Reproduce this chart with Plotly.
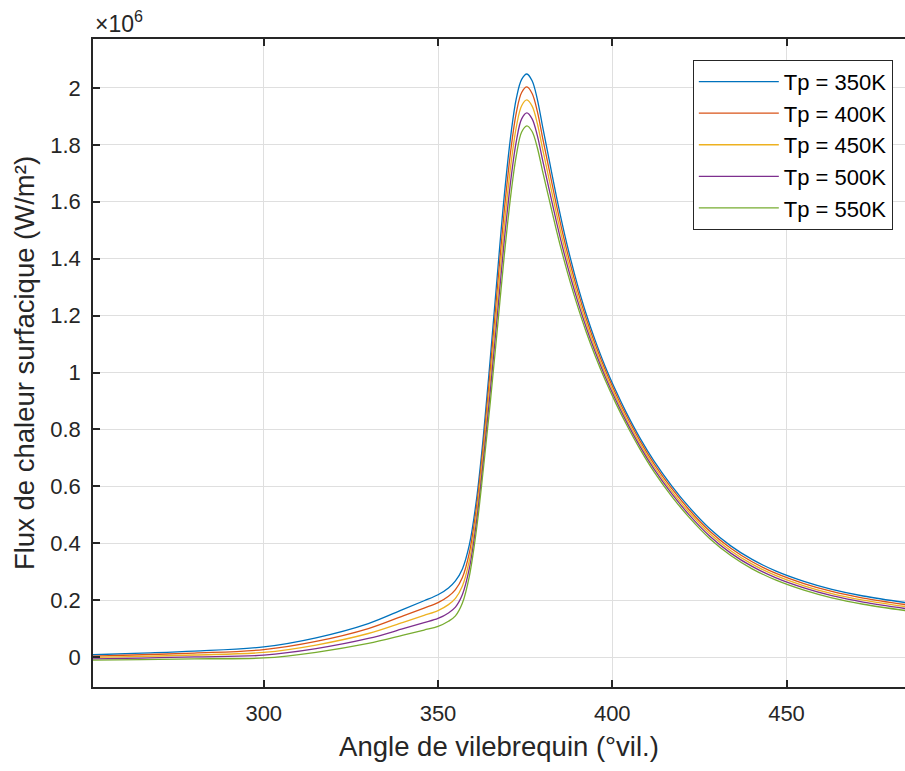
import numpy as np
import plotly.graph_objects as go

# Crank angle (°vil.)
angle = [250, 265, 280, 300, 315, 330, 340, 346, 350, 353, 355, 357, 359, 361, 363, 365, 367, 369, 371, 372.5,
         374, 375.5, 377, 378.5, 380, 382, 384, 386, 388, 390, 392.5, 395, 398, 401, 404, 408, 412, 417, 422,
         428, 434, 440, 447, 455, 463, 472, 485]

# Surface heat flux, in units of 1e6 W/m²
tp350 = [0.008, 0.014, 0.021, 0.036, 0.068, 0.118, 0.168, 0.198, 0.219, 0.243, 0.268, 0.31, 0.395, 0.55, 0.775, 1.05,
         1.34, 1.62, 1.845, 1.965, 2.03, 2.049, 2.025, 1.96, 1.865, 1.741, 1.617, 1.503, 1.401, 1.309, 1.2065, 1.1165,
         1.0205, 0.9365, 0.86, 0.7688, 0.6888, 0.6028, 0.5278, 0.451, 0.391, 0.3442, 0.3022, 0.2662, 0.2382, 0.2148, 0.1901]
tp400 = [0.0033, 0.0083, 0.0143, 0.0263, 0.0553, 0.1005, 0.1453, 0.1723, 0.1913, 0.2138, 0.2373, 0.28, 0.3675, 0.5238,
         0.7463, 1.0113, 1.2925, 1.5675, 1.7925, 1.915, 1.9838, 2.0035, 1.9805, 1.9175, 1.8258, 1.7065, 1.5875, 1.478,
         1.3795, 1.2905, 1.1908, 1.1028, 1.0085, 0.9255, 0.8498, 0.7591, 0.6793, 0.5936, 0.5188, 0.4423, 0.3825,
         0.336, 0.2942, 0.2585, 0.2307, 0.2076, 0.1831]
tp450 = [-0.0015, 0.0025, 0.0075, 0.0165, 0.0425, 0.083, 0.1225, 0.1465, 0.1635, 0.1845, 0.2065, 0.25, 0.34, 0.4975,
         0.7175, 0.9725, 1.245, 1.515, 1.74, 1.865, 1.9375, 1.958, 1.936, 1.875, 1.7865, 1.672, 1.558, 1.453,
         1.358, 1.272, 1.175, 1.089, 0.9965, 0.9145, 0.8395, 0.7493, 0.6698, 0.5843, 0.5098, 0.4335, 0.374,
         0.3277, 0.2862, 0.2507, 0.2232, 0.2003, 0.1761]
tp500 = [-0.0063, -0.0033, 0.0008, 0.0068, 0.0298, 0.0655, 0.0998, 0.1208, 0.1358, 0.1553, 0.1758, 0.22, 0.3125, 0.4713,
         0.6888, 0.9338, 1.1975, 1.4625, 1.6875, 1.815, 1.8913, 1.9125, 1.8915, 1.8325, 1.7473, 1.6375, 1.5285, 1.428,
         1.3365, 1.2535, 1.1593, 1.0753, 0.9845, 0.9035, 0.8293, 0.7396, 0.6603, 0.5751, 0.5008, 0.4248, 0.3655,
         0.3195, 0.2782, 0.243, 0.2157, 0.1931, 0.1691]
tp550 = [-0.011, -0.009, -0.006, -0.003, 0.017, 0.048, 0.077, 0.095, 0.108, 0.126, 0.145, 0.19, 0.285, 0.445, 0.66,
         0.895, 1.15, 1.41, 1.635, 1.765, 1.845, 1.867, 1.847, 1.79, 1.708, 1.603, 1.499, 1.403, 1.315, 1.235, 1.1435,
         1.0615, 0.9725, 0.8925, 0.819, 0.7298, 0.6508, 0.5658, 0.4918, 0.416, 0.357, 0.3112, 0.2702, 0.2352, 0.2082,
         0.1858, 0.1621]

series_names = ["Tp = 350K", "Tp = 400K", "Tp = 450K", "Tp = 500K", "Tp = 550K"]
series_vals = [tp350, tp400, tp450, tp500, tp550]
colors = ["#0072BD", "#D95319", "#EDB120", "#7E2F8E", "#77AC30"]

y_ticks = [0, 0.2, 0.4, 0.6, 0.8, 1, 1.2, 1.4, 1.6, 1.8, 2]
y_ticklabels = ["0", "0.2", "0.4", "0.6", "0.8", "1", "1.2", "1.4", "1.6", "1.8", "2"]
x_ticks = [300, 350, 400, 450]

FONT = "Liberation Sans, Arial, Helvetica, sans-serif"
INK = "#262626"

fig = go.Figure()
for name, vals, col in zip(series_names, series_vals, colors):
    fig.add_trace(go.Scatter(
        x=angle, y=np.array(vals) * 1e6, mode="lines", name=name,
        legendgroup=name,
        line=dict(color=col, width=1.3, shape="spline", smoothing=1.0),
    ))

fig.update_layout(
    width=905, height=771,
    margin=dict(l=93, r=0, t=39, b=84),
    paper_bgcolor="white", plot_bgcolor="white",
    font=dict(family=FONT, size=22, color=INK),
    showlegend=True,
    legend=dict(
        x=0.985, y=0.968, xanchor="right", yanchor="top",
        bgcolor="white", bordercolor=INK, borderwidth=1,
        font=dict(family=FONT, size=22, color="black"),
        tracegroupgap=0, itemwidth=80,
    ),
    xaxis=dict(
        range=[251, 484], tickvals=x_ticks, automargin=False,
        showgrid=True, gridcolor="#dfdfdf", gridwidth=1,
        zeroline=False, showline=True, linecolor=INK, linewidth=1.5,
        mirror="ticks", ticks="inside", ticklen=7, tickcolor=INK, tickwidth=1.5,
        tickfont=dict(size=22, color=INK), ticklabelstandoff=6,
        title=dict(text="Angle de vilebrequin (°vil.)", font=dict(size=27.5, color=INK), standoff=12),
    ),
    yaxis=dict(
        range=[-0.105e6, 2.172e6], automargin=False,
        tickvals=[v * 1e6 for v in y_ticks], ticktext=y_ticklabels,
        showgrid=True, gridcolor="#dfdfdf", gridwidth=1,
        zeroline=False, showline=True, linecolor=INK, linewidth=1.5,
        mirror=False, ticks="inside", ticklen=7, tickcolor=INK, tickwidth=1.5,
        tickfont=dict(size=22, color=INK), ticklabelstandoff=6,
        title=dict(text="Flux de chaleur surfacique (W/m²)", font=dict(size=27.5, color=INK), standoff=8),
    ),
    annotations=[dict(
        text="×10<sup>6</sup>", xref="paper", yref="paper", x=0, y=1,
        xanchor="left", yanchor="bottom", showarrow=False,
        font=dict(family=FONT, size=23, color=INK), yshift=0,
    )],
)

fig.write_html(
    "out.html",
    config={"displayModeBar": False},
    post_script="document.body.style.margin='0';document.documentElement.style.overflow='hidden';",
)
